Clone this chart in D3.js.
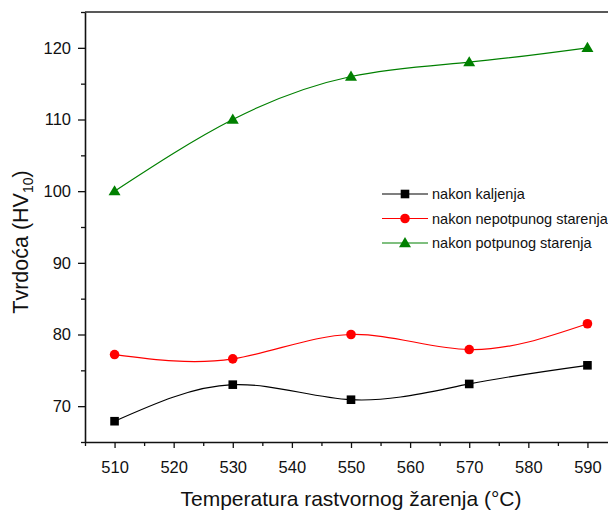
<!DOCTYPE html>
<html>
<head>
<meta charset="utf-8">
<script src="https://cdn.jsdelivr.net/npm/d3@7"></script>
<style>
  html, body { margin: 0; padding: 0; background: #fff; }
  svg { display: block; font-family: Arial, "Liberation Sans", sans-serif; }
</style>
</head>
<body>
<svg id="chart" width="608" height="510"></svg>
<script>
// Solution-annealing temperature (°C)
const temperatures = [510, 530, 550, 570, 590];

// Hardness HV10 for each treatment state
const afterQuench = [67.9, 73.0, 70.9, 73.1, 75.7];
const afterPartialAging = [77.2, 76.6, 80.0, 77.9, 81.5];
const afterFullAging = [100, 110, 116, 118, 120];

const seriesNames = ["nakon kaljenja", "nakon nepotpunog starenja", "nakon potpunog starenja"];
const seriesColors = ["#000000", "#ff0000", "#008000"];
const seriesSymbols = ["square", "circle", "triangle"];

const xTicks = [510, 520, 530, 540, 550, 560, 570, 580, 590];
const xMinorTicks = [505, 515, 525, 535, 545, 555, 565, 575, 585, 595];
const yTicks = [70, 80, 90, 100, 110, 120];
const yMinorTicks = [65, 75, 85, 95, 105, 115, 125];

const svg = d3.select("#chart");
const plot = { left: 85, right: 617, top: 12, bottom: 442 };

const x = d3.scaleLinear().domain([505, 595]).range([plot.left, plot.right]);
const y = d3.scaleLinear().domain([65, 125]).range([plot.bottom, plot.top]);

// Frame top line
svg.append("line")
  .attr("x1", plot.left).attr("x2", plot.right)
  .attr("y1", plot.top).attr("y2", plot.top)
  .attr("stroke", "#222").attr("stroke-width", 1.6);

// Y axis
const yAxis = svg.append("g").attr("transform", `translate(${plot.left},0)`)
  .call(d3.axisLeft(y).tickValues(yTicks).tickSize(7).tickSizeOuter(0).tickPadding(7));
yAxis.append("g").call(d3.axisLeft(y).tickValues(yMinorTicks).tickSize(4).tickSizeOuter(0).tickFormat(""))
  .select(".domain").remove();

// X axis
const xAxis = svg.append("g").attr("transform", `translate(0,${plot.bottom})`)
  .call(d3.axisBottom(x).tickValues(xTicks).tickSize(6).tickSizeOuter(0).tickPadding(13));
xAxis.append("g").call(d3.axisBottom(x).tickValues(xMinorTicks).tickSize(4).tickSizeOuter(0).tickFormat(""))
  .select(".domain").remove();

svg.selectAll(".domain").attr("stroke", "#111").attr("stroke-width", 1.6);
svg.selectAll(".tick line").attr("stroke", "#111").attr("stroke-width", 1.3);
svg.selectAll(".tick text").attr("font-size", 16.5).attr("fill", "#111")
  .attr("font-family", "Arial, 'Liberation Sans', sans-serif");

// Axis titles
svg.append("text")
  .attr("x", 351).attr("y", 506)
  .attr("text-anchor", "middle")
  .attr("font-size", 21).attr("fill", "#111")
  .text("Temperatura rastvornog žarenja (°C)");

const yTitle = svg.append("text")
  .attr("transform", "translate(28,242) rotate(-90)")
  .attr("text-anchor", "middle")
  .attr("font-size", 21.5).attr("fill", "#111");
yTitle.append("tspan").text("Tvrdoća (HV");
yTitle.append("tspan").attr("font-size", 14).attr("dy", 5).text("10");
yTitle.append("tspan").attr("dy", -5).text(")");

// Series
const allSeries = [afterQuench, afterPartialAging, afterFullAging];
const line = d3.line().x(d => x(d[0])).y(d => y(d[1])).curve(d3.curveNatural);

function drawSymbol(g, type, cx, cy, color) {
  if (type === "square") {
    g.append("rect").attr("x", cx - 4.3).attr("y", cy - 4.3)
      .attr("width", 8.6).attr("height", 8.6).attr("fill", color);
  } else if (type === "circle") {
    g.append("circle").attr("cx", cx).attr("cy", cy).attr("r", 4.8).attr("fill", color);
  } else {
    g.append("path")
      .attr("d", `M${cx},${cy - 6} L${cx + 6},${cy + 4.2} L${cx - 6},${cy + 4.2} Z`)
      .attr("fill", color);
  }
}

allSeries.forEach((vals, i) => {
  const pts = temperatures.map((t, j) => [t, vals[j]]);
  const g = svg.append("g");
  g.append("path").datum(pts)
    .attr("d", line)
    .attr("fill", "none")
    .attr("stroke", seriesColors[i])
    .attr("stroke-width", 1.2);
  pts.forEach(p => drawSymbol(g, seriesSymbols[i], x(p[0]), y(p[1]), seriesColors[i]));
});

// Legend
const legendRows = [194, 218.5, 243];
seriesNames.forEach((name, i) => {
  const g = svg.append("g");
  const ly = legendRows[i];
  g.append("line").attr("x1", 382).attr("x2", 428).attr("y1", ly).attr("y2", ly)
    .attr("stroke", seriesColors[i]).attr("stroke-width", 1.2);
  drawSymbol(g, seriesSymbols[i], 405, ly, seriesColors[i]);
  g.append("text").attr("x", 432).attr("y", ly + 5)
    .attr("font-size", 14.5).attr("fill", "#111").text(name);
});
</script>
</body>
</html>
